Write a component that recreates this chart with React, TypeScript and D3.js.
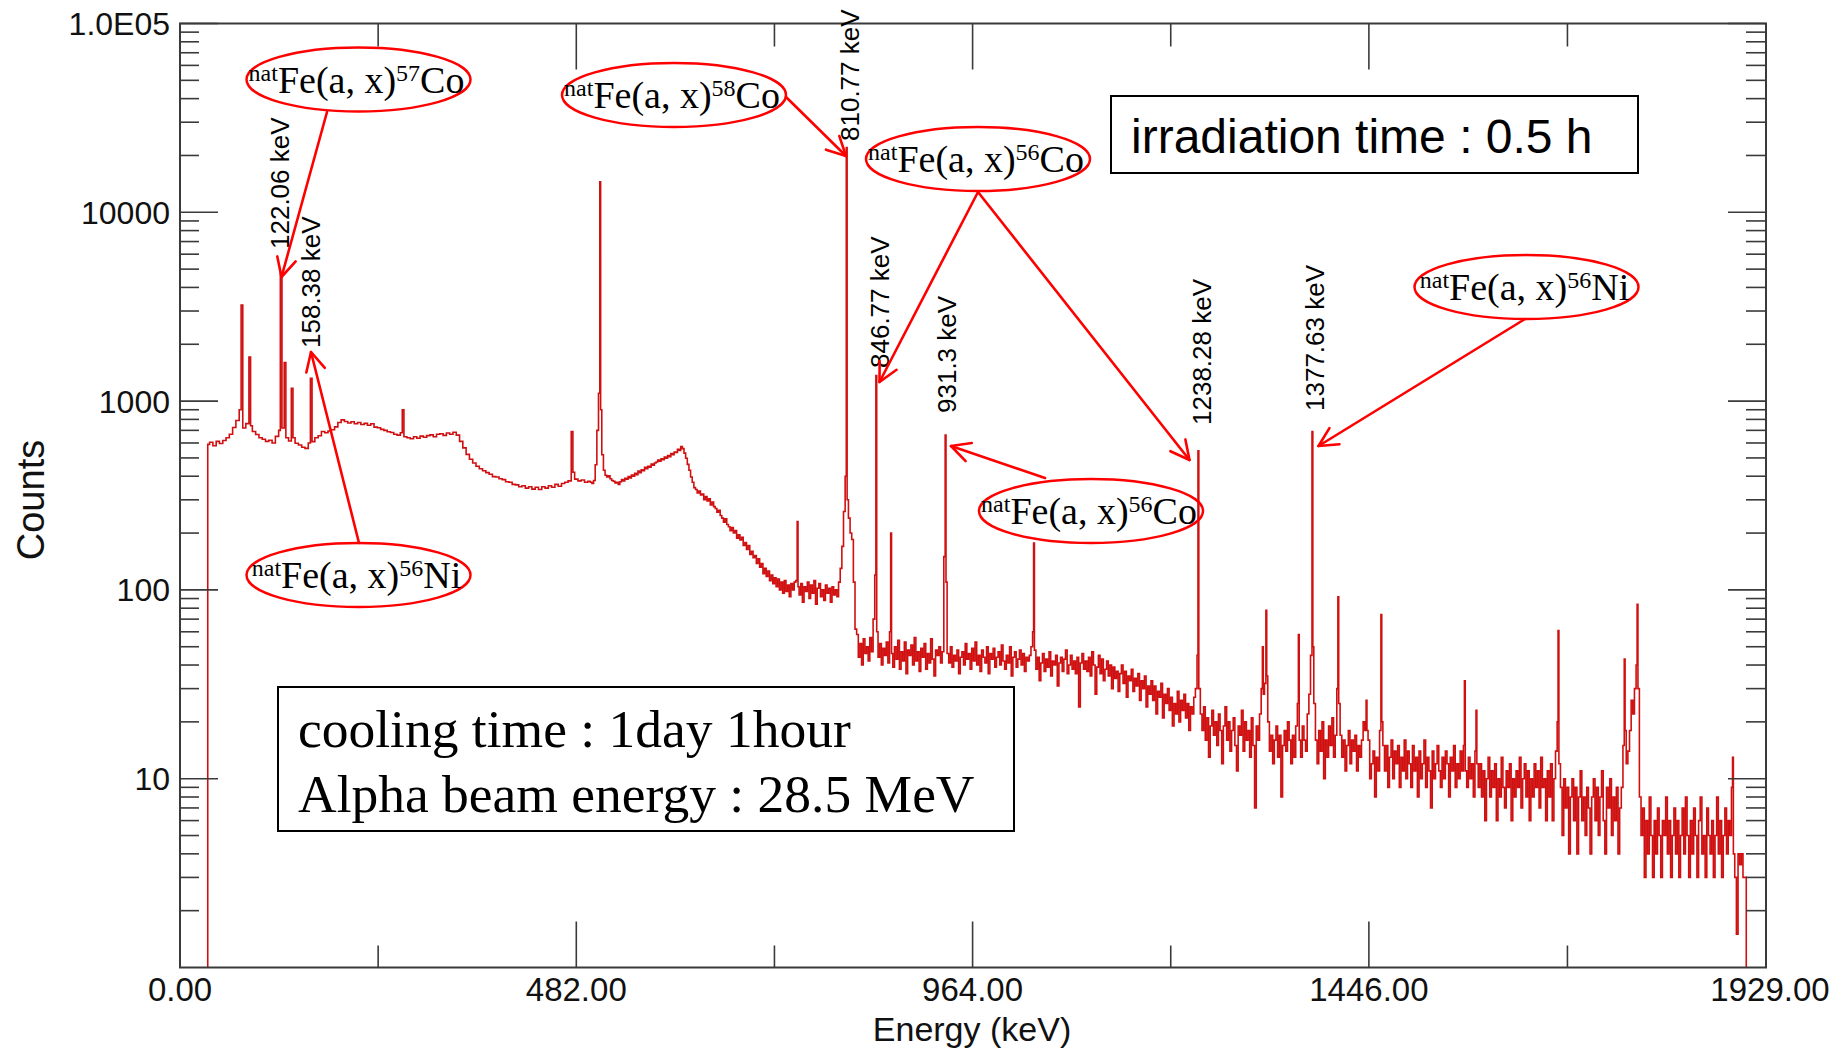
import React from 'react';
import * as d3 from 'd3';

// ---------------- data ----------------
const spectrumStartEnergy = 33.5; // keV, first channel with counts
const spectrumEndEnergy = 1906;   // keV, last channel with counts

// continuum, 34 .. 498 keV, every 4 keV
const lowStart = 34;
const lowStep = 4;
const lowCounts = [
  590, 605, 580, 612, 596, 618, 640, 668, 725, 790,
  900, 720, 760, 740, 690, 665, 640, 628, 612, 620,
  600, 650, 700, 720, 640, 615, 640, 598, 585, 570,
  562, 600, 610, 640, 655, 690, 680, 695, 705, 730,
  770, 795, 780, 765, 778, 758, 770, 752, 762, 745,
  758, 728, 722, 708, 700, 688, 682, 668, 660, 680,
  648, 640, 632, 648, 636, 652, 644, 656, 662, 648,
  668, 672, 658, 678, 668, 684, 660, 612, 565, 522,
  492, 470, 452, 438, 428, 418, 410, 398, 396, 388,
  384, 374, 372, 362, 360, 352, 356, 346, 352, 342,
  350, 340, 352, 346, 356, 350, 362, 354, 366, 372,
  378, 420, 386, 378, 382, 372, 376,
];

// 500 .. 822 keV, every 2 keV
const midStart = 500;
const midStep = 2;
const midCounts = [
  372, 366, 380, 460, 700, 1100, 900, 520, 430, 405,
  396, 402, 388, 380, 376, 368, 372, 362, 374, 384,
  378, 390, 386, 398, 392, 406, 400, 414, 408, 426,
  418, 432, 428, 446, 438, 452, 446, 464, 458, 470,
  476, 488, 480, 494, 490, 506, 498, 514, 508, 528,
  520, 538, 534, 556, 548, 575, 560, 530, 498, 462,
  430, 396, 372, 348, 340, 326, 334, 318, 322, 300,
  312, 296, 304, 282, 292, 276, 270, 258, 264, 248,
  240, 228, 238, 222, 216, 206, 214, 200, 206, 188,
  196, 184, 190, 172, 178, 164, 172, 154, 160, 148,
  152, 138, 146, 132, 138, 122, 130, 118, 126, 112,
  120, 108, 116, 104, 114, 100, 110, 96, 112, 98,
  106, 92, 108, 100, 110, 112, 104, 94, 108, 86,
  104, 98, 110, 90, 106, 96, 112, 84, 102, 108,
  92, 100, 88, 106, 96, 102, 86, 104, 94, 100,
  92, 110, 130, 170, 260, 400, 300, 240, 200, 185,
  110, 62,
];

// noisy part, 824 .. 1904 keV, every 2 keV
const highStart = 824;
const highStep = 2;
const highCounts = [
  58, 44, 52, 40, 55, 46, 50, 42, 56, 47,
  70, 120, 60, 44, 52, 40, 49, 45, 53, 41,
  60, 46, 39, 50, 43, 54, 38, 47, 42, 53,
  36, 48, 45, 51, 40, 56, 42, 47, 37, 49,
  44, 52, 38, 46, 41, 55, 43, 35, 48, 45,
  50, 41, 47, 150, 110, 46, 41, 50, 39, 45,
  42, 48, 36, 44, 47, 40, 52, 43, 46, 38,
  49, 42, 53, 40, 45, 37, 48, 44, 41, 50,
  36, 46, 43, 49, 39, 44, 47, 40, 51, 42,
  38, 45, 41, 50, 35, 44, 47, 39, 43, 48,
  40, 46, 37, 44, 42, 45, 50, 60, 48, 38,
  44, 33, 41, 46, 37, 43, 39, 47, 35, 42,
  40, 45, 31, 41, 44, 37, 43, 48, 36, 40,
  45, 38, 42, 36, 44, 24, 41, 46, 38, 42,
  37, 44, 35, 47, 40, 28, 39, 45, 36, 43,
  33, 38, 42, 35, 40, 30, 39, 34, 37, 29,
  36, 40, 32, 37, 27, 35, 33, 38, 29, 34,
  31, 36, 26, 33, 30, 35, 24, 31, 28, 33,
  26, 31, 22, 29, 27, 32, 21, 28, 25, 30,
  23, 27, 19, 25, 22, 29, 20, 26, 23, 28,
  21, 25, 18, 24, 22, 27, 30, 45, 30, 22,
  18, 24, 16, 21, 13, 19, 23, 17, 20, 15,
  22, 18, 12, 19, 24, 16, 20, 14, 18, 21,
  15, 11, 19, 17, 23, 14, 20, 16, 18, 13,
  21, 15, 7, 19, 16, 22, 30, 28, 32, 35,
  20, 14, 17, 12, 16, 19, 13, 17, 8, 15,
  18, 14, 20, 16, 12, 17, 13, 19, 25, 16,
  13, 19, 16, 14, 22, 28, 45, 50, 25, 16,
  12, 18, 14, 20, 10, 16, 13, 19, 15, 21,
  13, 17, 30, 25, 17, 13, 16, 11, 15, 18,
  12, 16, 14, 17, 11, 15, 13, 16, 20, 18,
  18, 16, 10, 12, 14, 8, 13, 11, 18, 20,
  15, 11, 15, 9, 13, 16, 10, 14, 12, 15,
  9, 13, 11, 16, 10, 14, 12, 9, 15, 11,
  13, 8, 14, 10, 12, 16, 9, 13, 11, 7,
  14, 10, 12, 15, 11, 9, 13, 10, 14, 12,
  8, 13, 11, 15, 9, 12, 10, 14, 11, 15,
  11, 9, 13, 10, 12, 8, 14, 12, 9, 12,
  8, 11, 6, 10, 13, 8, 11, 9, 12, 6,
  10, 8, 13, 9, 7, 11, 9, 12, 6, 10,
  8, 11, 9, 13, 7, 10, 12, 8, 11, 6,
  10, 8, 12, 9, 11, 7, 13, 9, 10, 6,
  11, 8, 12, 6, 10, 14, 20, 12, 9, 5,
  10, 7, 9, 4, 8, 10, 6, 9, 4, 8,
  11, 6, 8, 5, 9, 7, 4, 8, 10, 6,
  9, 5, 8, 11, 6, 4, 9, 7, 10, 5,
  8, 6, 9, 4, 7, 9, 15, 18, 12, 14,
  18, 26, 22, 30, 40, 30, 8, 5, 7, 3,
  6, 4, 8, 5, 3, 6, 4, 7, 5, 3,
  6, 5, 8, 4, 6, 3, 5, 7, 4, 6,
  3, 5, 7, 4, 8, 5, 3, 6, 4, 7,
  5, 3, 6, 8, 4, 5, 3, 7, 5, 4,
  6, 3, 5, 8, 4, 6, 3, 5, 7, 4,
  6, 5, 9, 4, 3, 1.5, 4, 3.5, 4, 3,
  3,
];

// photopeaks: energy (keV) and top count
const peakEnergies = [
  74.7, 85.7, 122.06, 127.5, 136.8, 159.2, 270.7, 477.7, 511.2, 751.3,
  810.77, 846.77, 864.8, 931.3, 1038.4, 1238.28, 1317.0, 1321.5, 1360.5, 1377.63,
  1408.6, 1443.3, 1461.3, 1562.4, 1576.6, 1676.2, 1757.2, 1772.5, 1888.6,
];
const peakHeights = [
  3230, 1710, 4800, 1600, 1170, 1320, 900, 690, 14500, 230,
  22000, 1365, 200, 660, 177, 546, 50, 78, 58, 690,
  92, 26, 74, 33, 23, 61, 43, 84, 13,
];

const labeledPeaks = [122.06, 158.38, 810.77, 846.77, 931.3, 1238.28, 1377.63];
const labeledPeakTexts = ['122.06 keV', '158.38 keV', '810.77 keV', '846.77 keV', '931.3 keV', '1238.28 keV', '1377.63 keV'];

const xTickValues = [0, 482, 964, 1446, 1929];
const xTickLabels = ['0.00', '482.00', '964.00', '1446.00', '1929.00'];
const xMinorTickValues = [241, 723, 1205, 1687.5];
const yTickValues = [10, 100, 1000, 10000, 100000];
const yTickLabels = ['10', '100', '1000', '10000', '1.0E05'];

const reactionMasses = ['57', '58', '56', '56', '56', '56'];
const reactionElements = ['Co', 'Co', 'Co', 'Ni', 'Co', 'Ni'];

// ---------------- layout ----------------
const W = 1841;
const H = 1052;
const PL = 180;
const PR = 1766;
const PT = 23.5;
const PB = 967.5;
const SANS = "'Liberation Sans', Arial, Helvetica, sans-serif";
const SERIF = "'Liberation Serif', 'Times New Roman', serif";
const RED = '#ff0000';

const ellipseCenters = [
  [358.5, 79.5],
  [674, 95],
  [978, 159],
  [1526.5, 287],
  [1091, 511],
  [358.5, 575],
];
const arrowLines = [
  [327, 112, 281.5, 277],
  [786, 97, 846, 156],
  [978, 192, 879.5, 382],
  [978, 192, 1189.5, 460],
  [1525, 319, 1318.5, 446],
  [1045, 478, 951, 446],
  [359, 543, 311, 352],
];
const peakLabelDx = [9, 10, 12, 13, 10, 13, 11];
const peakLabelStartY = [249, 348, 141, 368, 413, 425, 411];

function Arrow({ x1, y1, x2, y2 }: { x1: number; y1: number; x2: number; y2: number }) {
  const ang = Math.atan2(y1 - y2, x1 - x2);
  const L = 21;
  const th = (27 * Math.PI) / 180;
  const ax = x2 + L * Math.cos(ang + th);
  const ay = y2 + L * Math.sin(ang + th);
  const bx = x2 + L * Math.cos(ang - th);
  const by = y2 + L * Math.sin(ang - th);
  return (
    <g stroke={RED} strokeWidth={2.6} fill="none" strokeLinecap="round" strokeLinejoin="round">
      <line x1={x1} y1={y1} x2={x2} y2={y2} />
      <polyline points={`${ax},${ay} ${x2},${y2} ${bx},${by}`} />
    </g>
  );
}

function Reaction({ cx, cy, mass, el }: { cx: number; cy: number; mass: string; el: string }) {
  return (
    <g>
      <ellipse cx={cx} cy={cy} rx={112} ry={32} fill="none" stroke={RED} strokeWidth={2.5} />
      <text x={cx - 2} y={cy + 13} textAnchor="middle" fontFamily={SERIF} fontSize={38} fill="#000">
        <tspan fontSize={24} dy={-12}>nat</tspan>
        <tspan dy={12}>Fe(a, x)</tspan>
        <tspan fontSize={24} dy={-12}>{mass}</tspan>
        <tspan dy={12}>{el}</tspan>
      </text>
    </g>
  );
}

export default function App() {
  const x = d3.scaleLinear().domain([0, 1929]).range([PL, PR]);
  const y = d3.scaleLog().domain([1, 1e5]).range([PB, PT]).clamp(true);

  const pts: [number, number][] = [[spectrumStartEnergy, 1]];
  lowCounts.forEach((c, i) => pts.push([lowStart + i * lowStep, c]));
  midCounts.forEach((c, i) => pts.push([midStart + i * midStep, c]));
  highCounts.forEach((c, i) => pts.push([highStart + i * highStep, c]));
  peakEnergies.forEach((e, i) => pts.push([e, peakHeights[i]]));
  pts.push([spectrumEndEnergy, 1]);
  pts.sort((a, b) => a[0] - b[0]);

  const specPath =
    d3
      .line<[number, number]>()
      .x((d) => x(d[0]))
      .y((d) => y(d[1]))
      .curve(d3.curveStep)(pts) || '';

  const yMinor = y.ticks().filter((v) => !yTickValues.includes(v) && v !== 1 && v < 1e5);

  const axisColor = '#3a3a3a';

  return (
    <svg
      width={W}
      height={H}
      viewBox={`0 0 ${W} ${H}`}
      style={{ position: 'absolute', left: 0, top: 0, background: '#fff' }}
    >
      <rect x={0} y={0} width={W} height={H} fill="#fff" />
      <defs>
        <clipPath id="plotClip">
          <rect x={PL} y={PT} width={PR - PL} height={PB - PT} />
        </clipPath>
      </defs>

      {/* spectrum */}
      <path d={specPath} fill="none" stroke="#d01010" strokeWidth={1.6} clipPath="url(#plotClip)" />

      {/* frame */}
      <rect x={PL} y={PT} width={PR - PL} height={PB - PT} fill="none" stroke={axisColor} strokeWidth={2} />

      {/* ticks */}
      <g stroke={axisColor} strokeWidth={1.6}>
        {yTickValues.map((v) => (
          <g key={'ym' + v}>
            <line x1={PL} x2={PL + 38} y1={y(v)} y2={y(v)} />
            <line x1={PR} x2={PR - 38} y1={y(v)} y2={y(v)} />
          </g>
        ))}
        {yMinor.map((v) => (
          <g key={'yn' + v}>
            <line x1={PL} x2={PL + 19} y1={y(v)} y2={y(v)} />
            <line x1={PR} x2={PR - 20} y1={y(v)} y2={y(v)} />
          </g>
        ))}
        {xTickValues.slice(1, -1).map((v) => (
          <g key={'xm' + v}>
            <line x1={x(v)} x2={x(v)} y1={PB} y2={PB - 46} />
            <line x1={x(v)} x2={x(v)} y1={PT} y2={PT + 46} />
          </g>
        ))}
        {xMinorTickValues.map((v) => (
          <g key={'xn' + v}>
            <line x1={x(v)} x2={x(v)} y1={PB} y2={PB - 22} />
            <line x1={x(v)} x2={x(v)} y1={PT} y2={PT + 23} />
          </g>
        ))}
      </g>

      {/* tick labels */}
      <g fontFamily={SANS} fontSize={32} fill="#111">
        {yTickValues.map((v, i) => (
          <text key={'yl' + v} x={170} y={y(v)} dy="0.36em" textAnchor="end">
            {yTickLabels[i]}
          </text>
        ))}
      </g>
      <g fontFamily={SANS} fontSize={33} fill="#111">
        {xTickValues.map((v, i) => (
          <text key={'xl' + v} x={x(v) + (i === xTickValues.length - 1 ? 4 : 0)} y={1001} textAnchor="middle">
            {xTickLabels[i]}
          </text>
        ))}
      </g>

      {/* axis titles */}
      <text x={972} y={1041} textAnchor="middle" fontFamily={SANS} fontSize={34} fill="#111">
        Energy (keV)
      </text>
      <text
        transform={`translate(44, 500) rotate(-90)`}
        textAnchor="middle"
        fontFamily={SANS}
        fontSize={38}
        fill="#111"
      >
        Counts
      </text>

      {/* peak energy labels */}
      <g fontFamily={SANS} fontSize={26} fill="#000">
        {labeledPeaks.map((e, i) => (
          <text
            key={'pl' + e}
            transform={`translate(${x(e) + peakLabelDx[i]}, ${peakLabelStartY[i]}) rotate(-90)`}
            textAnchor="start"
          >
            {labeledPeakTexts[i]}
          </text>
        ))}
      </g>

      {/* info boxes */}
      <rect x={1111} y={96} width={527} height={77} fill="none" stroke="#000" strokeWidth={2} />
      <text x={1131} y={152.5} fontFamily={SANS} fontSize={48} fill="#000">
        irradiation time : 0.5 h
      </text>
      <rect x={278} y={687} width={736} height={144} fill="none" stroke="#000" strokeWidth={2} />
      <text x={298} y={747} fontFamily={SERIF} fontSize={53.5} fill="#000">
        cooling time : 1day 1hour
      </text>
      <text x={298} y={812} fontFamily={SERIF} fontSize={53.5} fill="#000">
        Alpha beam energy : 28.5 MeV
      </text>

      {/* reaction annotations */}
      {ellipseCenters.map((c, i) => (
        <Reaction key={'r' + i} cx={c[0]} cy={c[1]} mass={reactionMasses[i]} el={reactionElements[i]} />
      ))}
      {arrowLines.map((a, i) => (
        <Arrow key={'a' + i} x1={a[0]} y1={a[1]} x2={a[2]} y2={a[3]} />
      ))}
    </svg>
  );
}
